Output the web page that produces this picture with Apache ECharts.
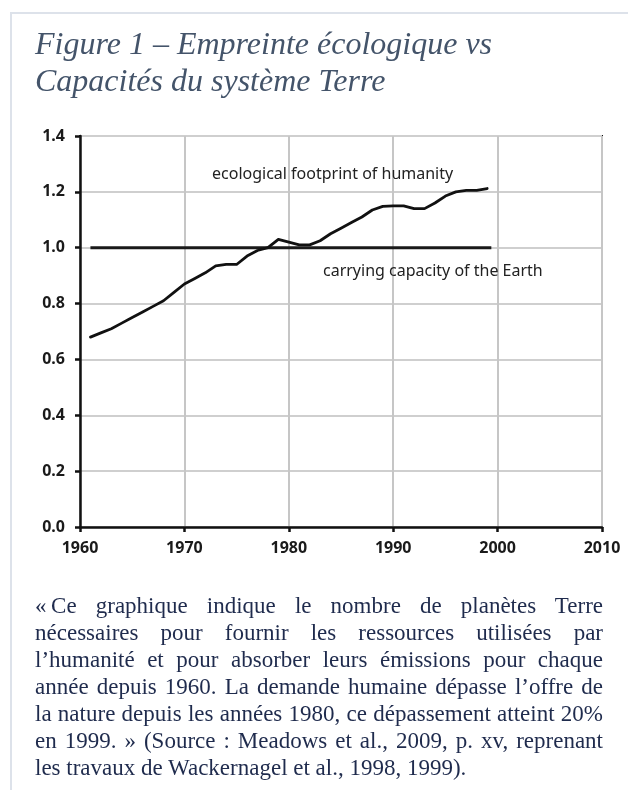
<!DOCTYPE html>
<html>
<head>
<meta charset="utf-8">
<script src="https://cdn.jsdelivr.net/npm/echarts@6/dist/echarts.min.js"></script>
<style>
  html, body { margin: 0; padding: 0; background: #fff; }
  #page { position: relative; width: 628px; height: 790px; overflow: hidden; }
  #frame {
    position: absolute; left: 10px; top: 12px; width: 640px; height: 800px;
    border-left: 2px solid #dde2ea; border-top: 2px solid #dde2ea;
  }
  #chart { position: absolute; left: 0; top: 0; width: 628px; height: 790px; }
  #title {
    position: absolute; left: 35px; top: 25px;
    font: italic 32px/37px "Liberation Serif", serif; color: #44546a;
  }
  #caption {
    position: absolute; left: 35px; top: 592px; width: 568px;
    font: 23px/27px "Liberation Serif", serif; color: #1f2b4d;
  }
  #caption div { text-align: justify; text-align-last: justify; white-space: nowrap; }
  #caption div.last { text-align-last: left; }
</style>
</head>
<body>
<div id="page">
  <div id="frame"></div>
  <div id="chart"></div>
  <div id="title">Figure 1 – Empreinte écologique vs<br>Capacités du système Terre</div>
  <div id="caption"></div>
</div>
<script>
// years 1961..1999, number of planet Earths needed
const years = [1961, 1962, 1963, 1964, 1965, 1966, 1967, 1968, 1969, 1970,
  1971, 1972, 1973, 1974, 1975, 1976, 1977, 1978, 1979, 1980,
  1981, 1982, 1983, 1984, 1985, 1986, 1987, 1988, 1989, 1990,
  1991, 1992, 1993, 1994, 1995, 1996, 1997, 1998, 1999];
const footprint = [0.68, 0.695, 0.71, 0.73, 0.75, 0.77, 0.79, 0.81, 0.84, 0.87,
  0.89, 0.91, 0.935, 0.94, 0.94, 0.97, 0.99, 1.0, 1.03, 1.02,
  1.01, 1.01, 1.025, 1.05, 1.07, 1.09, 1.11, 1.135, 1.148, 1.15,
  1.15, 1.14, 1.14, 1.16, 1.185, 1.2, 1.205, 1.205, 1.212];
const capacityYears = [1961, 1999.4];
const capacity = [1.0, 1.0];

const seriesLabels = ['ecological footprint of humanity', 'carrying capacity of the Earth'];

const captionLines = [
  '«\u2009Ce graphique indique le nombre de planètes Terre',
  'nécessaires pour fournir les ressources utilisées par',
  'l’humanité et pour absorber leurs émissions pour chaque',
  'année depuis 1960. La demande humaine dépasse l’offre de',
  'la nature depuis les années 1980, ce dépassement atteint 20%',
  'en 1999. » (Source : Meadows et al., 2009, p. xv, reprenant',
  'les travaux de Wackernagel et al., 1998, 1999).'
];

const cap = document.getElementById('caption');
captionLines.forEach((t, i) => {
  const d = document.createElement('div');
  d.textContent = t;
  if (i === captionLines.length - 1) d.className = 'last';
  cap.appendChild(d);
});

const labelFont = { fontFamily: 'Noto Sans', fontWeight: 'bold', fontSize: 16, color: '#1a1a1a' };

const chart = echarts.init(document.getElementById('chart'));
chart.setOption({
  animation: false,
  grid: { left: 80, top: 136, width: 522, height: 391, show: true, borderColor: '#111', borderWidth: 2 },
  xAxis: {
    type: 'value', min: 1960, max: 2010, interval: 10,
    axisLine: { show: true, onZero: false, lineStyle: { color: '#111', width: 2.5 } },
    axisTick: { show: true, length: 5, lineStyle: { color: '#111', width: 2.5 } },
    axisLabel: { ...labelFont, margin: 13, formatter: v => String(v) },
    splitLine: { show: true, lineStyle: { color: '#c6c6c6', width: 2 } }
  },
  yAxis: {
    type: 'value', min: 0, max: 1.4, interval: 0.2,
    axisLine: { show: true, lineStyle: { color: '#111', width: 2.5 } },
    axisTick: { show: true, length: 5, lineStyle: { color: '#111', width: 2.5 } },
    axisLabel: { ...labelFont, margin: 15, formatter: v => v.toFixed(1) },
    splitLine: { show: true, lineStyle: { color: '#cfcfcf', width: 2 } }
  },
  series: [
    {
      name: seriesLabels[0], type: 'line', showSymbol: false,
      lineStyle: { color: '#111', width: 2.8, join: 'round', cap: 'round' },
      data: years.map((y, i) => [y, footprint[i]]),
      z: 3
    },
    {
      name: seriesLabels[1], type: 'line', showSymbol: false,
      lineStyle: { color: '#1a1a1a', width: 3 },
      data: capacityYears.map((y, i) => [y, capacity[i]]),
      z: 2
    }
  ],
  graphic: [
    {
      type: 'text', left: 212, top: 166, z: 10,
      style: { text: seriesLabels[0], font: '16px "Noto Sans"', fill: '#222' }
    },
    {
      type: 'text', left: 323, top: 263, z: 10,
      style: { text: seriesLabels[1], font: '16px "Noto Sans"', fill: '#222' }
    }
  ]
});
</script>
</body>
</html>
